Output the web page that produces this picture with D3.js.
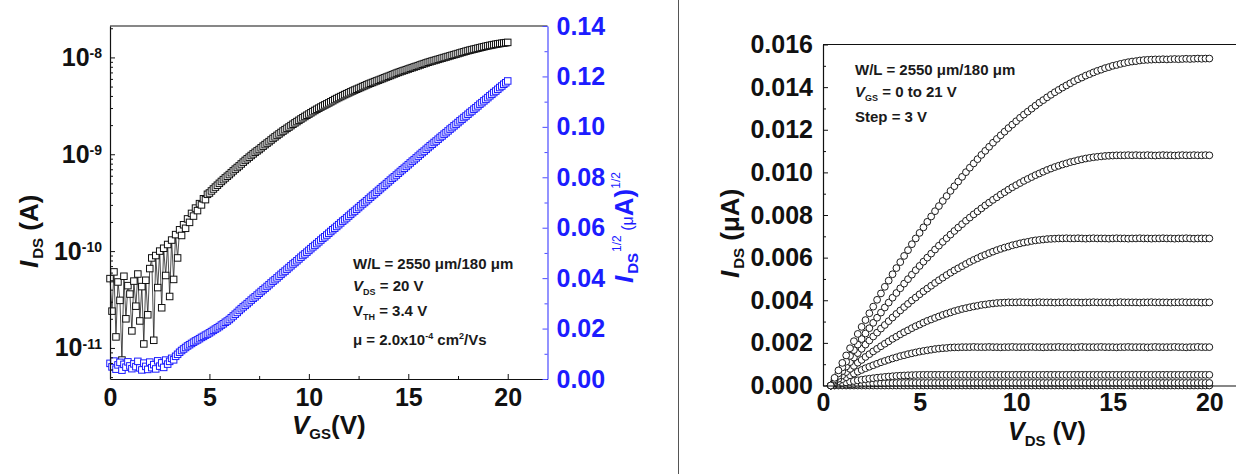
<!DOCTYPE html>
<html>
<head>
<meta charset="utf-8">
<script src="https://cdn.jsdelivr.net/npm/d3@7"></script>
<style>
  html, body { margin: 0; padding: 0; background: #fff; }
  svg { display: block; }
</style>
</head>
<body>
<svg id="chart" width="1236" height="474"></svg>
<script>
// ---------- Transfer curve: I_DS vs V_GS at V_DS = 20 V ----------
const vgs = [
  0,0.1,0.2,0.3,0.4,0.5,0.6,0.7,0.8,0.9,
  1,1.1,1.2,1.3,1.4,1.5,1.6,1.7,1.8,1.9,
  2,2.1,2.2,2.3,2.4,2.5,2.6,2.7,2.8,2.9,
  3,3.1,3.2,3.3,3.4,3.5,3.6,3.7,3.8,3.9,
  4,4.1,4.2,4.3,4.4,4.5,4.6,4.7,4.8,4.9,
  5,5.1,5.2,5.3,5.4,5.5,5.6,5.7,5.8,5.9,
  6,6.1,6.2,6.3,6.4,6.5,6.6,6.7,6.8,6.9,
  7,7.1,7.2,7.3,7.4,7.5,7.6,7.7,7.8,7.9,
  8,8.1,8.2,8.3,8.4,8.5,8.6,8.7,8.8,8.9,
  9,9.1,9.2,9.3,9.4,9.5,9.6,9.7,9.8,9.9,
  10,10.1,10.2,10.3,10.4,10.5,10.6,10.7,10.8,10.9,
  11,11.1,11.2,11.3,11.4,11.5,11.6,11.7,11.8,11.9,
  12,12.1,12.2,12.3,12.4,12.5,12.6,12.7,12.8,12.9,
  13,13.1,13.2,13.3,13.4,13.5,13.6,13.7,13.8,13.9,
  14,14.1,14.2,14.3,14.4,14.5,14.6,14.7,14.8,14.9,
  15,15.1,15.2,15.3,15.4,15.5,15.6,15.7,15.8,15.9,
  16,16.1,16.2,16.3,16.4,16.5,16.6,16.7,16.8,16.9,
  17,17.1,17.2,17.3,17.4,17.5,17.6,17.7,17.8,17.9,
  18,18.1,18.2,18.3,18.4,18.5,18.6,18.7,18.8,18.9,
  19,19.1,19.2,19.3,19.4,19.5,19.6,19.7,19.8,19.9,
  20
];

// drain current, A
const idsTransfer = [
  5.2e-11,2.4e-11,6.1e-11,1.3e-11,4.8e-11,3.1e-11,7.5e-12,5.5e-11,2.0e-11,4.4e-11,
  3.6e-11,1.5e-11,4.9e-11,2.7e-11,5.8e-11,1.9e-11,4.3e-11,1.1e-11,5.0e-11,2.2e-11,
  6.6e-11,8.5e-11,1.2e-11,9.0e-11,4.2e-11,1.00e-10,2.6e-11,1.07e-10,5.6e-11,1.17e-10,
  3.4e-11,1.30e-10,5.1e-11,1.48e-10,8.5e-11,1.66e-10,1.45e-10,1.87e-10,1.72e-10,2.15e-10,
  1.98e-10,2.45e-10,2.30e-10,2.78e-10,2.62e-10,3.09e-10,3.00e-10,3.47e-10,3.40e-10,3.86e-10,
  3.98e-10,4.18e-10,4.38e-10,4.58e-10,4.79e-10,5.01e-10,5.24e-10,5.47e-10,5.70e-10,5.93e-10,
  6.17e-10,6.45e-10,6.74e-10,7.02e-10,7.30e-10,7.59e-10,7.94e-10,8.29e-10,8.64e-10,8.98e-10,
  9.33e-10,9.71e-10,1.009e-9,1.047e-9,1.084e-9,1.12e-9,1.166e-9,1.212e-9,1.258e-9,1.304e-9,
  1.35e-9,1.404e-9,1.458e-9,1.512e-9,1.566e-9,1.62e-9,1.678e-9,1.736e-9,1.794e-9,1.852e-9,
  1.91e-9,1.976e-9,2.042e-9,2.108e-9,2.174e-9,2.24e-9,2.312e-9,2.384e-9,2.456e-9,2.528e-9,
  2.60e-9,2.678e-9,2.756e-9,2.834e-9,2.912e-9,2.99e-9,3.07e-9,3.15e-9,3.23e-9,3.31e-9,
  3.39e-9,3.48e-9,3.57e-9,3.67e-9,3.76e-9,3.85e-9,3.94e-9,4.03e-9,4.13e-9,4.22e-9,
  4.31e-9,4.41e-9,4.50e-9,4.60e-9,4.69e-9,4.79e-9,4.89e-9,5.00e-9,5.10e-9,5.21e-9,
  5.31e-9,5.41e-9,5.51e-9,5.62e-9,5.72e-9,5.82e-9,5.93e-9,6.04e-9,6.16e-9,6.27e-9,
  6.38e-9,6.50e-9,6.63e-9,6.75e-9,6.88e-9,7.00e-9,7.12e-9,7.24e-9,7.35e-9,7.47e-9,
  7.59e-9,7.72e-9,7.84e-9,7.97e-9,8.09e-9,8.22e-9,8.36e-9,8.50e-9,8.63e-9,8.77e-9,
  8.91e-9,9.04e-9,9.17e-9,9.29e-9,9.42e-9,9.55e-9,9.69e-9,9.82e-9,9.96e-9,1.009e-8,
  1.023e-8,1.038e-8,1.052e-8,1.067e-8,1.081e-8,1.096e-8,1.112e-8,1.128e-8,1.143e-8,1.159e-8,
  1.175e-8,1.189e-8,1.203e-8,1.217e-8,1.231e-8,1.245e-8,1.260e-8,1.274e-8,1.289e-8,1.303e-8,
  1.318e-8,1.330e-8,1.343e-8,1.355e-8,1.368e-8,1.380e-8,1.390e-8,1.400e-8,1.409e-8,1.419e-8,
  1.429e-8
];

// square root of drain current, (uA)^1/2
const sqrtIds = [
  0.0062,0.0048,0.0071,0.0039,0.0056,0.0066,0.0035,0.0058,0.0047,0.0068,
  0.0052,0.0041,0.0060,0.0049,0.0070,0.0044,0.0036,0.0063,0.0050,0.0038,
  0.0067,0.0045,0.0057,0.0040,0.0072,0.0051,0.0064,0.0046,0.0075,0.0059,
  0.0070,0.0082,0.0076,0.0090,0.0098,0.0106,0.0113,0.0119,0.0125,0.0131,
  0.0136,0.0141,0.0146,0.0151,0.0155,0.0160,0.0165,0.0169,0.0174,0.0178,
  0.0183,0.0188,0.0193,0.0198,0.0203,0.0208,0.0214,0.0219,0.0225,0.0230,
  0.0236,0.0243,0.0250,0.0257,0.0264,0.0272,0.0279,0.0286,0.0292,0.0299,
  0.0306,0.0313,0.0320,0.0326,0.0333,0.0340,0.0347,0.0354,0.0360,0.0367,
  0.0374,0.0381,0.0388,0.0394,0.0401,0.0408,0.0415,0.0422,0.0428,0.0435,
  0.0442,0.0449,0.0456,0.0462,0.0469,0.0476,0.0483,0.0490,0.0496,0.0503,
  0.0510,0.0517,0.0524,0.0530,0.0537,0.0544,0.0551,0.0558,0.0564,0.0571,
  0.0578,0.0585,0.0592,0.0598,0.0605,0.0612,0.0619,0.0626,0.0632,0.0639,
  0.0646,0.0653,0.0660,0.0666,0.0673,0.0680,0.0687,0.0694,0.0700,0.0707,
  0.0714,0.0721,0.0728,0.0734,0.0741,0.0748,0.0755,0.0762,0.0768,0.0775,
  0.0782,0.0789,0.0796,0.0802,0.0809,0.0816,0.0823,0.0830,0.0836,0.0843,
  0.0850,0.0857,0.0864,0.0870,0.0877,0.0884,0.0891,0.0898,0.0904,0.0911,
  0.0918,0.0925,0.0931,0.0938,0.0944,0.0951,0.0958,0.0964,0.0971,0.0977,
  0.0984,0.0991,0.0997,0.1004,0.1010,0.1017,0.1024,0.1030,0.1037,0.1043,
  0.1050,0.1057,0.1063,0.1070,0.1076,0.1083,0.1090,0.1096,0.1103,0.1109,
  0.1116,0.1123,0.1129,0.1136,0.1142,0.1149,0.1156,0.1162,0.1169,0.1175,
  0.1182
];

const xTicksT = [0, 5, 10, 15, 20];
const logTicks = [1e-11, 1e-10, 1e-9, 1e-8];
const sqrtTicks = [0, 0.02, 0.04, 0.06, 0.08, 0.10, 0.12, 0.14];

// ---------- Output curves: I_DS vs V_DS, V_GS = 0 to 21 V, step 3 V ----------
const vds = [
  0.4,0.6,0.8,1,1.2,1.4,1.6,1.8,2,2.2,
  2.4,2.6,2.8,3,3.2,3.4,3.6,3.8,4,4.2,
  4.4,4.6,4.8,5,5.2,5.4,5.6,5.8,6,6.2,
  6.4,6.6,6.8,7,7.2,7.4,7.6,7.8,8,8.2,
  8.4,8.6,8.8,9,9.2,9.4,9.6,9.8,10,10.2,
  10.4,10.6,10.8,11,11.2,11.4,11.6,11.8,12,12.2,
  12.4,12.6,12.8,13,13.2,13.4,13.6,13.8,14,14.2,
  14.4,14.6,14.8,15,15.2,15.4,15.6,15.8,16,16.2,
  16.4,16.6,16.8,17,17.2,17.4,17.6,17.8,18,18.2,
  18.4,18.6,18.8,19,19.2,19.4,19.6,19.8,20
];

const out21 = [
  0,0.00036,0.00071,0.00106,0.00141,0.00175,0.00208,0.00242,0.00275,0.00307,
  0.00339,0.00370,0.00402,0.00432,0.00463,0.00492,0.00522,0.00551,0.00579,0.00608,
  0.00635,0.00663,0.00690,0.00716,0.00742,0.00768,0.00793,0.00818,0.00842,0.00866,
  0.00889,0.00913,0.00935,0.00957,0.00979,0.01001,0.01022,0.01042,0.01062,0.01082,
  0.01101,0.01120,0.01139,0.01157,0.01174,0.01191,0.01208,0.01224,0.01240,0.01256,
  0.01271,0.01285,0.01299,0.01313,0.01327,0.01339,0.01352,0.01364,0.01376,0.01387,
  0.01398,0.01408,0.01418,0.01428,0.01437,0.01445,0.01454,0.01461,0.01469,0.01476,
  0.01482,0.01489,0.01494,0.01500,0.01504,0.01509,0.01513,0.01517,0.01520,0.01522,
  0.01525,0.01527,0.01528,0.01529,0.01530,0.01530,0.01531,0.01530,0.01531,0.01532,
  0.01531,0.01532,0.01533,0.01532,0.01533,0.01534,0.01533,0.01534,0.01534
];
const out18 = [
  0,0.00029,0.00057,0.00085,0.00112,0.00139,0.00166,0.00192,0.00218,0.00244,
  0.00269,0.00294,0.00318,0.00342,0.00366,0.00389,0.00412,0.00434,0.00456,0.00478,
  0.00499,0.00520,0.00541,0.00561,0.00581,0.00600,0.00619,0.00638,0.00656,0.00674,
  0.00691,0.00708,0.00725,0.00741,0.00757,0.00773,0.00788,0.00803,0.00817,0.00831,
  0.00845,0.00858,0.00871,0.00883,0.00896,0.00907,0.00919,0.00930,0.00940,0.00950,
  0.00960,0.00969,0.00978,0.00987,0.00995,0.01003,0.01011,0.01018,0.01025,0.01031,
  0.01037,0.01042,0.01048,0.01052,0.01057,0.01061,0.01065,0.01068,0.01071,0.01073,
  0.01075,0.01077,0.01078,0.01079,0.01080,0.01080,0.01080,0.01081,0.01080,0.01081,
  0.01080,0.01080,0.01081,0.01080,0.01079,0.01080,0.01081,0.01080,0.01080,0.01079,
  0.01080,0.01081,0.01080,0.01080,0.01081,0.01080,0.01080,0.01081,0.01080
];
const out15 = [
  0,0.00023,0.00045,0.00067,0.00089,0.00110,0.00131,0.00152,0.00172,0.00192,
  0.00211,0.00230,0.00248,0.00267,0.00284,0.00302,0.00319,0.00336,0.00352,0.00368,
  0.00383,0.00399,0.00413,0.00428,0.00442,0.00455,0.00468,0.00481,0.00494,0.00506,
  0.00518,0.00529,0.00540,0.00550,0.00560,0.00570,0.00580,0.00589,0.00597,0.00606,
  0.00613,0.00621,0.00628,0.00635,0.00641,0.00647,0.00652,0.00658,0.00662,0.00667,
  0.00671,0.00674,0.00678,0.00681,0.00683,0.00685,0.00687,0.00688,0.00689,0.00690,
  0.00690,0.00691,0.00690,0.00690,0.00691,0.00690,0.00689,0.00690,0.00691,0.00690,
  0.00690,0.00690,0.00689,0.00690,0.00691,0.00690,0.00690,0.00689,0.00690,0.00690,
  0.00691,0.00690,0.00690,0.00689,0.00690,0.00690,0.00691,0.00690,0.00690,0.00689,
  0.00690,0.00690,0.00691,0.00690,0.00689,0.00690,0.00690,0.00690,0.00690
];
const out12 = [
  0,0.00016,0.00032,0.00048,0.00063,0.00078,0.00092,0.00107,0.00120,0.00134,
  0.00147,0.00160,0.00172,0.00184,0.00196,0.00207,0.00219,0.00229,0.00240,0.00250,
  0.00259,0.00269,0.00278,0.00286,0.00295,0.00303,0.00310,0.00317,0.00324,0.00331,
  0.00337,0.00343,0.00349,0.00354,0.00359,0.00363,0.00367,0.00371,0.00374,0.00378,
  0.00380,0.00383,0.00385,0.00387,0.00388,0.00389,0.00390,0.00390,0.00390,0.00391,
  0.00390,0.00390,0.00389,0.00390,0.00391,0.00390,0.00390,0.00390,0.00389,0.00390,
  0.00390,0.00391,0.00390,0.00390,0.00390,0.00389,0.00390,0.00390,0.00391,0.00390,
  0.00390,0.00390,0.00390,0.00389,0.00390,0.00391,0.00390,0.00390,0.00390,0.00390,
  0.00389,0.00390,0.00390,0.00391,0.00390,0.00390,0.00390,0.00390,0.00389,0.00390,
  0.00390,0.00391,0.00390,0.00390,0.00390,0.00390,0.00389,0.00390,0.00390
];
const out9 = [
  0,0.00010,0.00020,0.00030,0.00039,0.00048,0.00056,0.00065,0.00073,0.00081,
  0.00088,0.00095,0.00102,0.00109,0.00115,0.00121,0.00127,0.00132,0.00138,0.00142,
  0.00147,0.00151,0.00155,0.00159,0.00162,0.00165,0.00168,0.00171,0.00173,0.00175,
  0.00176,0.00178,0.00179,0.00179,0.00180,0.00180,0.00180,0.00181,0.00180,0.00180,
  0.00180,0.00181,0.00180,0.00180,0.00179,0.00180,0.00180,0.00181,0.00180,0.00180,
  0.00180,0.00180,0.00181,0.00180,0.00180,0.00179,0.00180,0.00180,0.00180,0.00181,
  0.00180,0.00180,0.00180,0.00179,0.00180,0.00181,0.00180,0.00180,0.00180,0.00180,
  0.00181,0.00180,0.00180,0.00180,0.00179,0.00180,0.00180,0.00181,0.00180,0.00180,
  0.00180,0.00180,0.00179,0.00180,0.00181,0.00180,0.00180,0.00180,0.00180,0.00181,
  0.00180,0.00180,0.00179,0.00180,0.00180,0.00181,0.00180,0.00180,0.00180
];
const out6 = [
  0,0.000039,0.000077,0.000113,0.000147,0.000180,0.000211,0.000241,0.000269,0.000295,
  0.000320,0.000343,0.000365,0.000385,0.000403,0.000420,0.000435,0.000449,0.000461,0.000471,
  0.000480,0.000487,0.000493,0.000497,0.000499,0.000500,0.000500,0.000501,0.000500,0.000500,
  0.000500,0.000499,0.000500,0.000500,0.000501,0.000500,0.000500,0.000500,0.000499,0.000500,
  0.000500,0.000501,0.000500,0.000500,0.000500,0.000500,0.000499,0.000500,0.000501,0.000500,
  0.000500,0.000500,0.000500,0.000499,0.000500,0.000500,0.000501,0.000500,0.000500,0.000500,
  0.000499,0.000500,0.000500,0.000501,0.000500,0.000500,0.000500,0.000500,0.000499,0.000500,
  0.000501,0.000500,0.000500,0.000500,0.000500,0.000499,0.000500,0.000500,0.000501,0.000500,
  0.000500,0.000500,0.000499,0.000500,0.000500,0.000501,0.000500,0.000500,0.000500,0.000500,
  0.000499,0.000500,0.000500,0.000501,0.000500,0.000500,0.000500,0.000500,0.000500
];
const out3 = [
  0,0.000012,0.000023,0.000033,0.000043,0.000053,0.000061,0.000069,0.000077,0.000084,
  0.000090,0.000096,0.000101,0.000105,0.000109,0.000113,0.000115,0.000117,0.000119,0.000120,
  0.000120,0.000121,0.000120,0.000120,0.000119,0.000120,0.000120,0.000121,0.000120,0.000120,
  0.000120,0.000120,0.000121,0.000120,0.000119,0.000120,0.000120,0.000120,0.000121,0.000120,
  0.000120,0.000119,0.000120,0.000120,0.000120,0.000121,0.000120,0.000120,0.000120,0.000119,
  0.000120,0.000120,0.000121,0.000120,0.000120,0.000120,0.000119,0.000120,0.000120,0.000121,
  0.000120,0.000120,0.000120,0.000120,0.000119,0.000120,0.000121,0.000120,0.000120,0.000120,
  0.000120,0.000121,0.000120,0.000119,0.000120,0.000120,0.000120,0.000121,0.000120,0.000120,
  0.000119,0.000120,0.000120,0.000120,0.000121,0.000120,0.000120,0.000120,0.000119,0.000120,
  0.000120,0.000121,0.000120,0.000120,0.000120,0.000119,0.000120,0.000120,0.000120
];
const out0 = [
  0,0,0,0,0,0,0,0,0,0,
  0,0,0,0,0,0,0,0,0,0,
  0,0,0,0,0,0,0,0,0,0,
  0,0,0,0,0,0,0,0,0,0,
  0,0,0,0,0,0,0,0,0,0,
  0,0,0,0,0,0,0,0,0,0,
  0,0,0,0,0,0,0,0,0,0,
  0,0,0,0,0,0,0,0,0,0,
  0,0,0,0,0,0,0,0,0,0,
  0,0,0,0,0,0,0,0,0
];
const outCurves = [out0, out3, out6, out9, out12, out15, out18, out21];
const xTicksO = [0, 5, 10, 15, 20];
const yTicksO = [0, 0.002, 0.004, 0.006, 0.008, 0.010, 0.012, 0.014, 0.016];

// ---------- drawing ----------
const FONT = '"Liberation Sans", Arial, Helvetica, sans-serif';
const BLUE = '#1c1cff';
const BLUE_AXIS = '#4a4aff';
const TICK_FS = 25;
const svg = d3.select('#chart');

function styleAxis(g, size, color) {
  g.attr('font-family', FONT).attr('font-size', size).attr('font-weight', 'bold');
  g.selectAll('.domain').attr('stroke', color).attr('stroke-width', 1.2);
  g.selectAll('.tick line').attr('stroke', color).attr('stroke-width', 1);
  g.selectAll('.tick text').attr('fill', color);
}

// panel divider
svg.append('line').attr('x1', 678.5).attr('x2', 678.5).attr('y1', 0).attr('y2', 474)
  .attr('stroke', '#555').attr('stroke-width', 1);

// ===== transfer panel =====
const xT = d3.scaleLinear().domain([0, 22]).range([110, 547.5]);
const yT = d3.scaleLog().domain([4.78e-12, 2.11e-8]).range([379, 26]);
const yS = d3.scaleLinear().domain([0, 0.14]).range([379, 26]);

const tData = d3.zip(vgs, idsTransfer, sqrtIds);
const gT = svg.append('g');

gT.append('path').datum(tData)
  .attr('d', d3.line().x(d => xT(d[0])).y(d => yT(d[1])))
  .attr('fill', 'none').attr('stroke', '#222').attr('stroke-width', 0.8);
gT.append('g').selectAll('rect').data(tData).join('rect')
  .attr('x', d => xT(d[0]) - 3.25).attr('y', d => yT(d[1]) - 3.25)
  .attr('width', 6.5).attr('height', 6.5)
  .attr('fill', '#fff').attr('stroke', '#111').attr('stroke-width', 1);
gT.append('g').selectAll('rect').data(tData).join('rect')
  .attr('x', d => xT(d[0]) - 3.25).attr('y', d => yS(d[2]) - 3.25)
  .attr('width', 6.5).attr('height', 6.5)
  .attr('fill', '#fff').attr('stroke', BLUE).attr('stroke-width', 1);

// frame top
svg.append('line').attr('x1', xT.range()[0]).attr('x2', xT.range()[1])
  .attr('y1', 26).attr('y2', 26).attr('stroke', '#111').attr('stroke-width', 1.2);

// bottom axis
const axTB = svg.append('g').attr('transform', 'translate(0,379)')
  .call(d3.axisBottom(xT).tickValues(xTicksT).tickSize(-5).tickSizeOuter(0).tickPadding(9).tickFormat(d3.format('d')));
styleAxis(axTB, TICK_FS, '#111');
svg.append('g').attr('transform', 'translate(0,379)')
  .call(d3.axisBottom(xT).tickValues([2.5, 7.5, 12.5, 17.5]).tickSize(-3).tickSizeOuter(0).tickFormat(''))
  .call(g => { g.select('.domain').remove(); g.selectAll('line').attr('stroke', '#111'); });

// left log axis
const axTL = svg.append('g').attr('transform', 'translate(110,0)')
  .call(d3.axisLeft(yT).tickValues(logTicks).tickSize(-5).tickSizeOuter(0).tickPadding(8).tickFormat(''));
styleAxis(axTL, TICK_FS, '#111');
axTL.selectAll('.tick text').each(function (d) {
  const t = d3.select(this);
  t.append('tspan').text('10');
  t.append('tspan').attr('font-size', 14).attr('dy', '-0.55em').text(Math.round(Math.log10(d)));
});
const minorLog = [];
[1e-12, 1e-11, 1e-10, 1e-9, 1e-8].forEach(dec => {
  [2, 3, 4, 5, 6, 7, 8, 9].forEach(m => {
    const v = dec * m;
    if (v > yT.domain()[0] && v < yT.domain()[1]) minorLog.push(v);
  });
});
svg.append('g').attr('transform', 'translate(110,0)')
  .call(d3.axisLeft(yT).tickValues(minorLog).tickSize(-3).tickSizeOuter(0).tickFormat(''))
  .call(g => { g.select('.domain').remove(); g.selectAll('line').attr('stroke', '#111'); });

// right sqrt axis (blue)
const axTR = svg.append('g').attr('transform', 'translate(547.5,0)')
  .call(d3.axisRight(yS).tickValues(sqrtTicks).tickSize(-5).tickSizeOuter(0).tickPadding(9).tickFormat(d3.format('.2f')));
styleAxis(axTR, TICK_FS, BLUE_AXIS);
axTR.selectAll('.tick text').attr('fill', BLUE);
svg.append('g').attr('transform', 'translate(547.5,0)')
  .call(d3.axisRight(yS).tickValues([0.01, 0.03, 0.05, 0.07, 0.09, 0.11, 0.13]).tickSize(-3).tickSizeOuter(0).tickFormat(''))
  .call(g => { g.select('.domain').remove(); g.selectAll('line').attr('stroke', BLUE_AXIS); });

// axis titles
const tx1 = svg.append('text').attr('x', 292).attr('y', 434)
  .attr('font-family', FONT).attr('font-weight', 'bold').attr('font-size', 26).attr('fill', '#111');
tx1.append('tspan').attr('font-style', 'italic').text('V');
tx1.append('tspan').attr('font-size', 15).attr('dy', 5).text('GS');
tx1.append('tspan').attr('dy', -5).text('(V)');

const ty1 = svg.append('text').attr('transform', 'translate(38,268) rotate(-90)')
  .attr('font-family', FONT).attr('font-weight', 'bold').attr('font-size', 26).attr('fill', '#111');
ty1.append('tspan').attr('font-style', 'italic').text('I');
ty1.append('tspan').attr('font-size', 15).attr('dy', 5).attr('dx', 2).text('DS');
ty1.append('tspan').attr('dy', -5).text(' (A)');

const ty2 = svg.append('text').attr('transform', 'translate(633,283) rotate(-90)')
  .attr('font-family', FONT).attr('font-weight', 'bold').attr('font-size', 26).attr('fill', BLUE);
ty2.append('tspan').attr('font-style', 'italic').text('I');
ty2.append('tspan').attr('font-size', 15).attr('dy', 5).attr('dx', 2).text('DS');
ty2.append('tspan').attr('font-size', 12).attr('font-weight', 'normal').attr('dy', -17).attr('dx', 1).text('1/2');
ty2.append('tspan').attr('font-size', 16).attr('font-weight', 'normal').attr('dy', 12).text(' (\u03bc');
ty2.append('tspan').text('A)');
ty2.append('tspan').attr('font-size', 12).attr('font-weight', 'normal').attr('dy', -13).text('1/2');

// parameters
const legT = svg.append('g').attr('font-family', FONT).attr('font-weight', 'bold')
  .attr('font-size', 15).attr('fill', '#1a1a1a');
legT.append('text').attr('x', 353).attr('y', 269).text('W/L = 2550 \u03bcm/180 \u03bcm');
const l2 = legT.append('text').attr('x', 353).attr('y', 291);
l2.append('tspan').attr('font-style', 'italic').text('V');
l2.append('tspan').attr('font-size', 9).attr('dy', 4).text('DS');
l2.append('tspan').attr('dy', -4).text(' = 20 V');
const l3 = legT.append('text').attr('x', 353).attr('y', 316);
l3.append('tspan').text('V');
l3.append('tspan').attr('font-size', 9).attr('dy', 4).text('TH');
l3.append('tspan').attr('dy', -4).text(' = 3.4 V');
const l4 = legT.append('text').attr('x', 353).attr('y', 345);
l4.append('tspan').text('\u03bc = 2.0x10');
l4.append('tspan').attr('font-size', 9).attr('dy', -6).text('-4');
l4.append('tspan').attr('dy', 6).text(' cm');
l4.append('tspan').attr('font-size', 9).attr('dy', -6).text('2');
l4.append('tspan').attr('dy', 6).text('/Vs');

// ===== output panel =====
const xO = d3.scaleLinear().domain([0, 22]).range([823, 1248]);
const yO = d3.scaleLinear().domain([0, 0.016]).range([385.5, 44.5]);

const gO = svg.append('g');
outCurves.forEach(curve => {
  gO.append('g').selectAll('circle').data(d3.zip(vds, curve)).join('circle')
    .attr('cx', d => xO(d[0])).attr('cy', d => yO(d[1])).attr('r', 3.4)
    .attr('fill', '#fff').attr('stroke', '#1a1a1a').attr('stroke-width', 1);
});

svg.append('line').attr('x1', xO.range()[0]).attr('x2', xO.range()[1])
  .attr('y1', 44.5).attr('y2', 44.5).attr('stroke', '#111').attr('stroke-width', 1.2);

const axOB = svg.append('g').attr('transform', 'translate(0,385.5)')
  .call(d3.axisBottom(xO).tickValues(xTicksO).tickSize(0).tickSizeOuter(0).tickPadding(8).tickFormat(d3.format('d')));
styleAxis(axOB, TICK_FS, '#111');

const axOL = svg.append('g').attr('transform', 'translate(823,0)')
  .call(d3.axisLeft(yO).tickValues(yTicksO).tickSize(-5).tickSizeOuter(0).tickPadding(10).tickFormat(d3.format('.3f')));
styleAxis(axOL, TICK_FS, '#111');
svg.append('g').attr('transform', 'translate(823,0)')
  .call(d3.axisLeft(yO).tickValues([0.001, 0.003, 0.005, 0.007, 0.009, 0.011, 0.013, 0.015]).tickSize(-3).tickSizeOuter(0).tickFormat(''))
  .call(g => { g.select('.domain').remove(); g.selectAll('line').attr('stroke', '#111'); });

const tx2 = svg.append('text').attr('x', 1008).attr('y', 440)
  .attr('font-family', FONT).attr('font-weight', 'bold').attr('font-size', 25).attr('fill', '#111');
tx2.append('tspan').attr('font-style', 'italic').text('V');
tx2.append('tspan').attr('font-size', 15).attr('dy', 6).text('DS');
tx2.append('tspan').attr('dy', -6).text(' (V)');

const ty3 = svg.append('text').attr('transform', 'translate(739,278) rotate(-90)')
  .attr('font-family', FONT).attr('font-weight', 'bold').attr('font-size', 26).attr('fill', '#111');
ty3.append('tspan').attr('font-style', 'italic').text('I');
ty3.append('tspan').attr('font-size', 15).attr('dy', 5).attr('dx', 2).text('DS');
ty3.append('tspan').attr('dy', -5).text(' (\u03bcA)');

const legO = svg.append('g').attr('font-family', FONT).attr('font-weight', 'bold')
  .attr('font-size', 15).attr('fill', '#1a1a1a');
legO.append('text').attr('x', 855).attr('y', 75).text('W/L = 2550 \u03bcm/180 \u03bcm');
const m2 = legO.append('text').attr('x', 855).attr('y', 97);
m2.append('tspan').attr('font-style', 'italic').text('V');
m2.append('tspan').attr('font-size', 9).attr('dy', 4).text('GS');
m2.append('tspan').attr('dy', -4).text(' = 0 to 21 V');
legO.append('text').attr('x', 855).attr('y', 122).text('Step = 3 V');
</script>
</body>
</html>
